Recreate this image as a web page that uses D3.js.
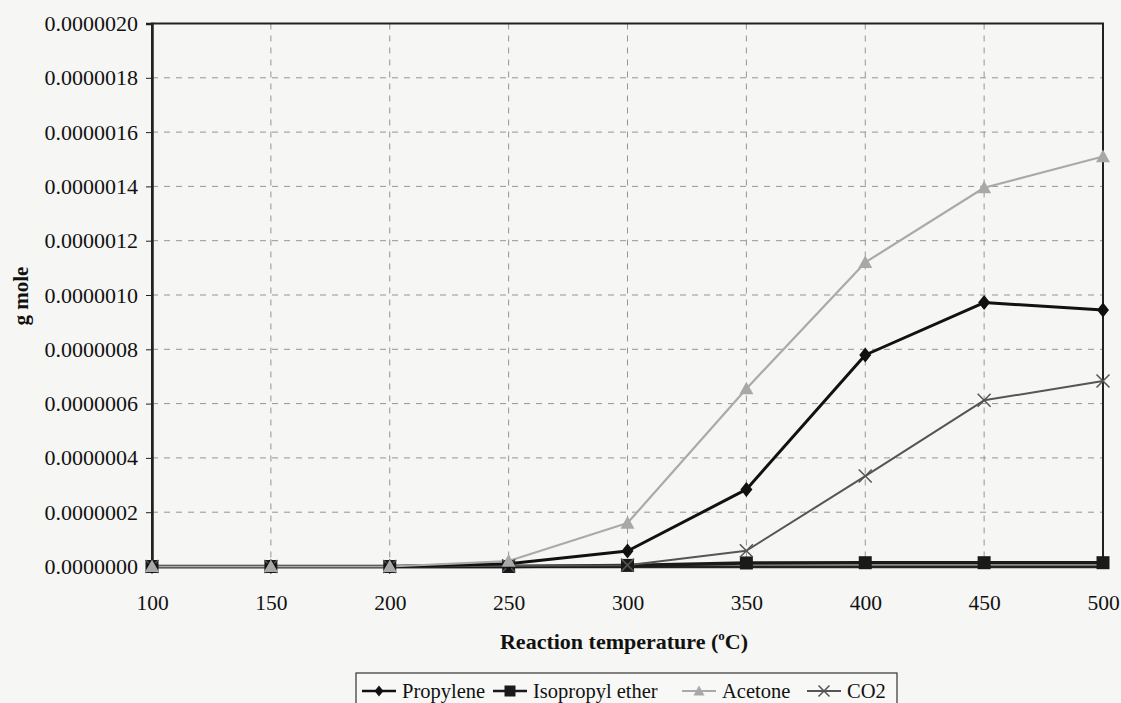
<!DOCTYPE html>
<html><head><meta charset="utf-8">
<script src="https://cdn.jsdelivr.net/npm/d3@7"></script>
<style>
html,body{margin:0;padding:0;background:#f6f6f4;}
svg{display:block;font-family:"Liberation Serif","Times New Roman",serif;}
</style></head>
<body>
<svg id="c" width="1121" height="703"></svg>
<script>
const temps = [100,150,200,250,300,350,400,450,500];
const propylene = [0,0,0,0.01e-6,0.057e-6,0.284e-6,0.779e-6,0.972e-6,0.945e-6];
const isopropylEther = [0,0,0,0,0.004e-6,0.013e-6,0.014e-6,0.014e-6,0.014e-6];
const acetone = [0,0,0,0.02e-6,0.16e-6,0.655e-6,1.12e-6,1.395e-6,1.51e-6];
const co2 = [0,0,0,0.003e-6,0.005e-6,0.058e-6,0.333e-6,0.612e-6,0.683e-6];
const seriesNames = ["Propylene","Isopropyl ether","Acetone","CO2"];
const yTicks = [0,0.2e-6,0.4e-6,0.6e-6,0.8e-6,1.0e-6,1.2e-6,1.4e-6,1.6e-6,1.8e-6,2.0e-6];
const xLabel = "Reaction temperature (";
const yLabel = "g mole";

const svg = d3.select("#c");
const L=152, R=1103, T=23.5, B=566.5;
const x = d3.scaleLinear().domain([100,500]).range([L,R]);
const y = d3.scaleLinear().domain([0,2e-6]).range([B,T]);

// grid
const g = svg.append("g");
g.selectAll(".hg").data(yTicks.slice(1,-1)).enter().append("line")
  .attr("x1",L).attr("x2",R).attr("y1",d=>y(d)).attr("y2",d=>y(d))
  .attr("stroke","#959595").attr("stroke-width",1).attr("stroke-dasharray","6,6");
g.selectAll(".vg").data(temps.slice(1,-1)).enter().append("line")
  .attr("y1",T).attr("y2",B).attr("x1",d=>x(d)).attr("x2",d=>x(d))
  .attr("stroke","#959595").attr("stroke-width",1).attr("stroke-dasharray","6,6");

// frame
svg.append("rect").attr("x",L).attr("y",T).attr("width",R-L).attr("height",B-T)
  .attr("fill","none").attr("stroke","#222").attr("stroke-width",2);

// axes
const yAxis = d3.axisLeft(y).tickValues(yTicks).tickFormat(d=>d3.format(".7f")(d)).tickSize(6).tickPadding(8);
const ya = svg.append("g").attr("transform",`translate(${L},0)`).call(yAxis);
ya.attr("font-family","Liberation Serif").attr("font-size",22);
ya.select(".domain").attr("stroke","#222").attr("stroke-width",2.5);
ya.selectAll("line").attr("stroke","#222");
ya.selectAll("text").attr("fill","#111");

const xAxis = d3.axisBottom(x).tickValues(temps).tickFormat(d3.format("d")).tickSize(0).tickPadding(43);
const xa = svg.append("g").attr("transform",`translate(0,${B})`).call(xAxis);
xa.attr("font-family","Liberation Serif").attr("font-size",21.5);
xa.select(".domain").attr("stroke","#222").attr("stroke-width",2.5);
xa.selectAll("text").attr("fill","#111").attr("dy","0");

// titles
const xt = svg.append("text").attr("x",624).attr("y",649).attr("text-anchor","middle")
  .attr("font-size",22).attr("font-weight","bold").attr("fill","#111");
xt.append("tspan").text(xLabel);
xt.append("tspan").text("o").attr("font-size",13).attr("dy",-9);
xt.append("tspan").text("C)").attr("dy",9);
svg.append("text").attr("transform","translate(28,296) rotate(-90)").attr("text-anchor","middle")
  .attr("font-size",21).attr("font-weight","bold").attr("fill","#111").text(yLabel);

// series
const styles = [
  {vals:propylene,color:"#111",w:3,marker:"diamond"},
  {vals:isopropylEther,color:"#1a1a1a",w:3.5,marker:"square"},
  {vals:acetone,color:"#aaaaaa",w:2.2,marker:"triangle"},
  {vals:co2,color:"#555",w:2,marker:"x"}
];
const line = d3.line().x((d,i)=>x(temps[i])).y(d=>y(d));
function drawMarker(sel,type,color,cx,cy,s){
  if(type==="diamond"){
    sel.append("path").attr("d",`M${cx},${cy-s}L${cx+s*0.8},${cy}L${cx},${cy+s}L${cx-s*0.8},${cy}Z`).attr("fill",color);
  } else if(type==="square"){
    sel.append("rect").attr("x",cx-s).attr("y",cy-s).attr("width",2*s).attr("height",2*s).attr("fill",color);
  } else if(type==="triangle"){
    sel.append("path").attr("d",`M${cx},${cy-s}L${cx+s},${cy+s*0.8}L${cx-s},${cy+s*0.8}Z`).attr("fill",color);
  } else {
    sel.append("path").attr("d",`M${cx-s},${cy-s}L${cx+s},${cy+s}M${cx+s},${cy-s}L${cx-s},${cy+s}`)
      .attr("stroke",color).attr("stroke-width",1.5).attr("fill","none");
  }
}
const order=[1,3,0,2];
order.forEach(k=>{
  const s=styles[k];
  svg.append("path").datum(s.vals).attr("d",line).attr("fill","none")
    .attr("stroke",s.color).attr("stroke-width",s.w).attr("stroke-linejoin","round");
});
order.forEach(k=>{
  const s=styles[k];
  const mg=svg.append("g");
  s.vals.forEach((v,i)=>{
    const sz = s.marker==="square"?6.5:(s.marker==="x"?6.5:(s.marker==="triangle"?7:7.5));
    drawMarker(mg,s.marker,s.marker==="triangle"?"#a8a8a8":s.color,x(temps[i]),y(v),sz);
  });
});

// legend
const lg = svg.append("g");
lg.append("rect").attr("x",356).attr("y",673).attr("width",541).attr("height",40)
  .attr("fill","#f8f8f6").attr("stroke","#333").attr("stroke-width",1.2);
const legX = [360,491,680,805];
seriesNames.forEach((n,i)=>{
  const s=styles[i];
  const cx=legX[i], cy=691;
  lg.append("line").attr("x1",cx+2).attr("x2",cx+36).attr("y1",cy).attr("y2",cy)
    .attr("stroke",s.color).attr("stroke-width",Math.min(s.w,2.5));
  drawMarker(lg,s.marker,i===2?"#a8a8a8":s.color,cx+19,cy,5.5);
  lg.append("text").attr("x",cx+42).attr("y",cy+7).attr("font-size",20.5).attr("fill","#111").text(n);
});
</script>
</body></html>
